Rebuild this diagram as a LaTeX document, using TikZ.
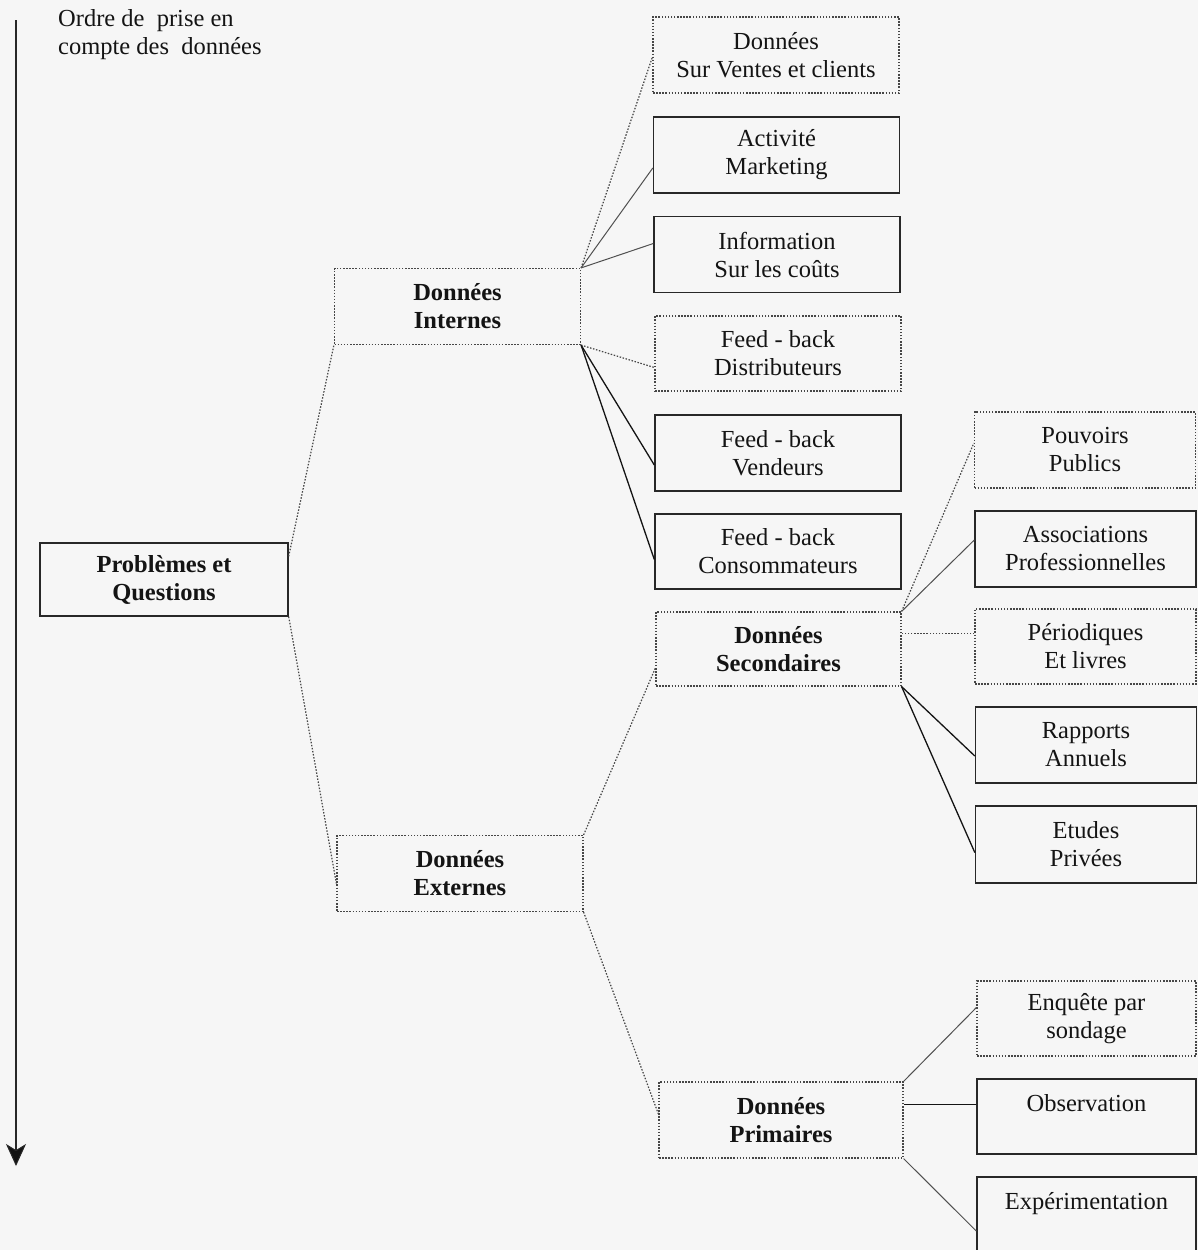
\documentclass[tikz,border=0pt]{standalone}
\usepackage{fontspec}
\setmainfont{Liberation Serif}
\usetikzlibrary{arrows.meta,calc}
\definecolor{paper}{RGB}{246,246,246}
\definecolor{ink}{RGB}{20,20,20}
\definecolor{frame}{RGB}{40,40,40}
\definecolor{dotc}{RGB}{70,70,70}
\definecolor{thinc}{RGB}{80,80,80}
\begin{document}
\begin{tikzpicture}[x=1pt,y=-1pt,
  txt/.style={font=\fontsize{24.5}{28}\selectfont, text=ink, align=center, inner sep=0pt},
  solidbox/.style={txt, draw=frame, line width=1.4pt, minimum height=76pt},
  dotbox/.style={txt, draw=dotc, line width=1.2pt, dash pattern=on 1.5pt off 1.6pt, minimum height=76pt},
  wide/.style={minimum width=246pt},
  narrow/.style={minimum width=221pt},
  bold/.style={font=\fontsize{24.5}{28}\selectfont\bfseries},
  dotlink/.style={draw=dotc, line width=1.2pt, dash pattern=on 1.5pt off 1.6pt},
  greylink/.style={draw=thinc, line width=1pt},
  blacklink/.style={draw=ink, line width=1.3pt},
  arrowline/.style={draw=frame, line width=1.5pt, -{Stealth[length=22pt,width=20pt,inset=6pt,line width=1pt,fill=ink]}}
]
\useasboundingbox (0,0) rectangle (1198,1250);
\fill[paper] (0,0) rectangle (1198,1250);
\clip (0,0) rectangle (1198,1250);

% time axis on the left
\coordinate (atop) at (16,20);
\coordinate (abot) at (16,1166);
\draw[arrowline] (atop) -- (abot);
\node[txt, align=left, anchor=north west] (title) at (58,9) {Ordre de~ prise en\\compte des~ données};

% root
\node[solidbox, bold, minimum width=248pt, minimum height=73pt] (prob) at (164,579.5) {Problèmes et\\Questions};

% first level
\node[dotbox, bold, wide] (intern) at (457.5,306.5) {Données\\Internes};
\node[dotbox, bold, wide] (extern) at (460,873.5) {Données\\Externes};

% internal sources
\node[dotbox, wide] (ventes) at (776,55) {Données\\Sur Ventes et clients};
\node[solidbox, wide] (act) at (776.5,155) {Activité\\Marketing};
\node[solidbox, wide] (info) at (777,254.5) {Information\\Sur les coûts};
\node[dotbox, wide, minimum height=75pt] (distr) at (778,353.5) {Feed - back\\Distributeurs};
\node[solidbox, wide] (vend) at (778,453) {Feed - back\\Vendeurs};
\node[solidbox, wide, minimum height=75pt] (cons) at (778,551.5) {Feed - back\\Consommateurs};

% external sources
\node[dotbox, bold, minimum width=245pt, minimum height=74pt] (sec) at (778.5,649) {Données\\Secondaires};
\node[dotbox, bold, minimum width=244pt] (prim) at (781,1120) {Données\\Primaires};

% secondary data
\node[dotbox, narrow] (pouv) at (1085,450) {Pouvoirs\\Publics};
\node[solidbox, narrow] (assoc) at (1085.5,549) {Associations\\Professionnelles};
\node[dotbox, narrow, minimum height=75pt] (period) at (1085.5,646.5) {Périodiques\\Et livres};
\node[solidbox, narrow] (rapp) at (1086,745) {Rapports\\Annuels};
\node[solidbox, narrow, minimum height=77pt] (etud) at (1086,844.5) {Etudes\\Privées};

% primary data
\node[dotbox, minimum width=219pt, minimum height=75pt] (enq) at (1086.5,1018.5) {Enquête par\\sondage};
\node[solidbox, minimum width=219pt, minimum height=75pt] (obs) at (1086.5,1116.5) {Observation\\\phantom{X}};
\node[solidbox, minimum width=219pt] (exp) at (1086.5,1215) {Expérimentation\\\phantom{X}};

% links from the root
\draw[dotlink] ($(prob.north east)+(0,14)$) -- (intern.south west);
\draw[dotlink] (prob.south east) -- ($(extern.west)+(0,10)$);

% links from internal data
\draw[dotlink] (intern.north east) -- ($(ventes.west)+(0,2)$);
\draw[greylink] (intern.north east) -- ($(act.west)+(0,13)$);
\draw[greylink] (intern.north east) -- ($(info.west)+(0,-11)$);
\draw[dotlink] (intern.south east) -- ($(distr.west)+(0,14)$);
\draw[blacklink] (intern.south east) -- ($(vend.west)+(0,12)$);
\draw[blacklink] (intern.south east) -- ($(cons.west)+(0,8)$);

% links from external data
\draw[dotlink] (extern.north east) -- ($(sec.west)+(0,19)$);
\draw[dotlink] (extern.south east) -- ($(prim.west)+(0,-6)$);

% links from secondary data
\draw[dotlink] (sec.north east) -- ($(pouv.west)+(0,-7)$);
\draw[greylink] (sec.north east) -- ($(assoc.west)+(0,-9)$);
\draw[dotlink] ($(period.west)+(0,-13)$) coordinate (pw) -- (pw -| sec.east);
\draw[blacklink] (sec.south east) -- ($(rapp.west)+(0,11)$);
\draw[blacklink] (sec.south east) -- ($(etud.west)+(0,8)$);

% links from primary data
\draw[greylink] (prim.north east) -- ($(enq.west)+(0,-11)$);
\draw[blacklink] ($(obs.west)+(0,-12)$) coordinate (ow) -- (ow -| prim.east);
\draw[greylink] (prim.south east) -- ($(exp.west)+(0,16)$);
\end{tikzpicture}
\end{document}
